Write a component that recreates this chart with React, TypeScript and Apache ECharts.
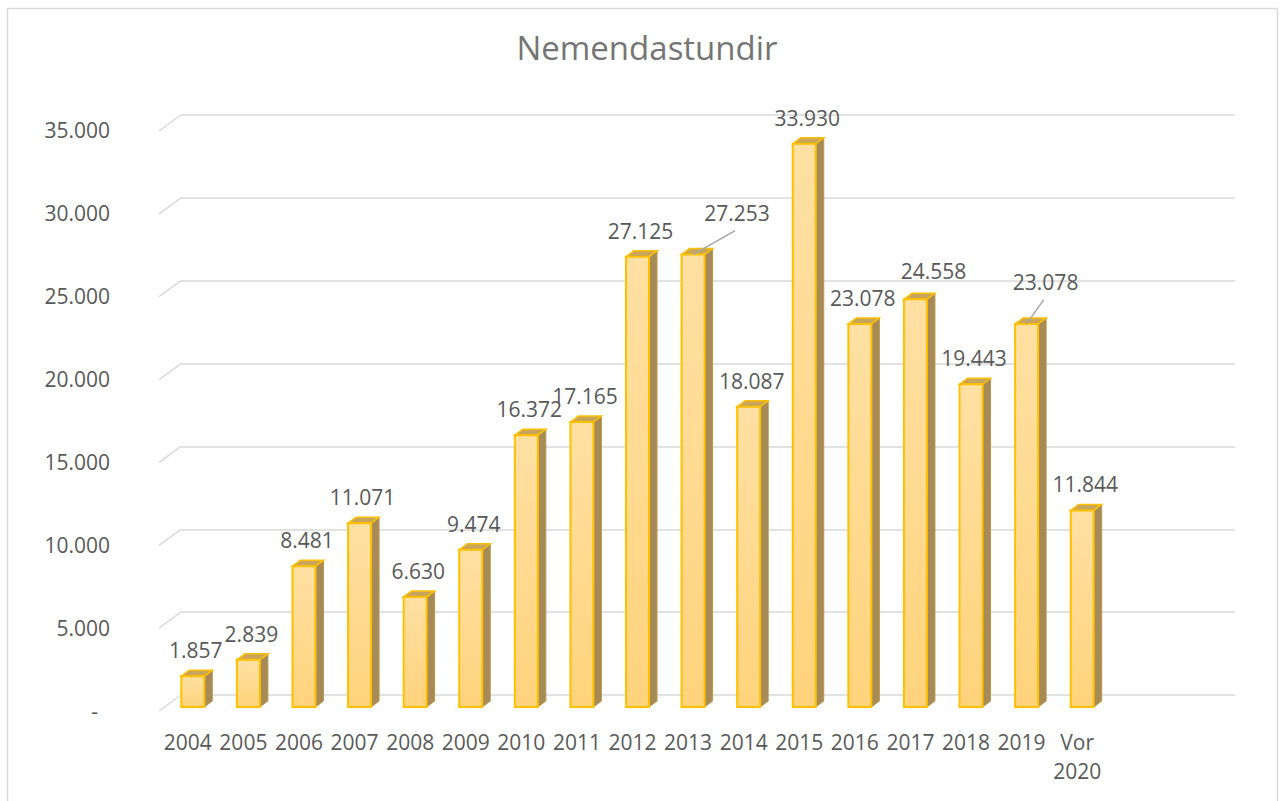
import React, { useEffect, useRef } from "react";
import * as echarts from "echarts";

const categories = ["2004", "2005", "2006", "2007", "2008", "2009", "2010", "2011", "2012", "2013", "2014", "2015", "2016", "2017", "2018", "2019", "Vor\n2020"];
const values = [1857, 2839, 8481, 11071, 6630, 9474, 16372, 17165, 27125, 27253, 18087, 33930, 23078, 24558, 19443, 23078, 11844];
const yTicks = [0, 5000, 10000, 15000, 20000, 25000, 30000, 35000];
const titleText = "Nemendastundir";

// label nudges for dragged labels (category index -> [dx, dy]) and which have leader lines
const labelNudges: Record<number, [number, number]> = { 9: [41, -16], 13: [15, -2], 15: [16, -16] };
const leaderIdx = [9, 15];

const FONT = "'Open Sans', sans-serif";
const fmt = (v: number) => String(v).replace(/\B(?=(\d{3})+(?!\d))/g, ".");

export default function App() {
  const ref = useRef<HTMLDivElement>(null);
  useEffect(() => {
    const chart = echarts.init(ref.current!, undefined, { renderer: "svg" });
    const frontGrad = new echarts.graphic.LinearGradient(0, 0, 0, 1, [
      { offset: 0, color: "#FFE0A3" },
      { offset: 1, color: "#FFD37C" },
    ]);
    chart.setOption({
      animation: false,
      backgroundColor: "#ffffff",
      title: {
        text: titleText,
        left: 642,
        textAlign: "center",
        top: 26,
        textStyle: { fontFamily: FONT, fontSize: 33, fontWeight: "normal", color: "#757575" },
      },
      graphic: [
        {
          type: "rect",
          shape: { x: 7.5, y: 8.5, width: 1270, height: 800 },
          style: { fill: "none", stroke: "#d9d9d9", lineWidth: 1.5 },
          silent: true,
        },
      ],
      grid: [
        { left: 181, right: 45, top: 115, bottom: 106 },
        { left: 160, right: 175, top: 130, bottom: 90 },
      ],
      xAxis: [
        { gridIndex: 0, type: "value", min: 0, max: 1, show: false },
        {
          gridIndex: 1,
          type: "category",
          data: categories,
          axisLine: { show: false },
          axisTick: { show: false },
          axisLabel: {
            interval: 0,
            margin: 16,
            verticalAlign: "top",
            lineHeight: 29,
            fontFamily: FONT,
            fontSize: 21,
            color: "#595959",
          },
        },
      ],
      yAxis: [
        {
          gridIndex: 0,
          type: "value",
          min: 0,
          max: 35000,
          interval: 5000,
          axisLine: { show: false },
          axisTick: { show: false },
          axisLabel: { show: false },
          splitLine: { lineStyle: { color: "#d9d9d9", width: 1.5 } },
        },
        {
          gridIndex: 1,
          type: "value",
          min: 0,
          max: 35000,
          interval: 5000,
          axisLine: { show: false },
          axisTick: { show: false },
          splitLine: { show: false },
          axisLabel: {
            margin: 50,
            fontFamily: FONT,
            fontSize: 21,
            color: "#595959",
            formatter: (v: number) => (v === 0 ? "{z|-}" : fmt(v)),
            rich: { z: { fontFamily: FONT, fontSize: 21, color: "#595959", padding: [0, 12, 0, 0] } },
          },
        },
      ],
      series: [
        {
          type: "custom",
          xAxisIndex: 0,
          yAxisIndex: 0,
          silent: true,
          data: yTicks.map((t) => [0, t]),
          renderItem: (params: any, api: any) => {
            const p = api.coord([0, api.value(1)]);
            return {
              type: "line",
              shape: { x1: p[0] - 22, y1: p[1] + 16, x2: p[0], y2: p[1] },
              style: { stroke: "#d9d9d9", lineWidth: 1.5 },
            };
          },
        },
        {
          type: "custom",
          xAxisIndex: 1,
          yAxisIndex: 1,
          silent: true,
          data: values.map((v, i) => [i, v]),
          renderItem: (params: any, api: any) => {
            const i = api.value(0);
            const v = api.value(1);
            const top = api.coord([i, v]);
            const bot = api.coord([i, 0]);
            const cx = top[0] + 5;
            const t = top[1] - 4;
            const b = bot[1] - 4;
            const hw = 11.5;
            const dx = 8;
            const dy = 6;
            const l = cx - hw;
            const r = cx + hw;
            const nudge = labelNudges[i] || [0, 0];
            const lx = cx + 3 + nudge[0];
            const ly = t - 26 + nudge[1];
            const children: any[] = [
              {
                type: "polygon",
                shape: { points: [[r, t], [r + dx, t - dy], [r + dx, b - dy], [r, b]] },
                style: { fill: "#A68B58", stroke: "#B89545", lineWidth: 1 },
              },
              {
                type: "polygon",
                shape: { points: [[l, t], [l + dx, t - dy], [r + dx, t - dy], [r, t]] },
                style: { fill: "#C8A55C", stroke: "#FFC000", lineWidth: 1.5 },
              },
              {
                type: "rect",
                shape: { x: l, y: t, width: hw * 2, height: b - t },
                style: { fill: frontGrad, stroke: "#FFC000", lineWidth: 2 },
              },
              {
                type: "text",
                x: lx,
                y: ly,
                style: {
                  text: fmt(v),
                  fill: "#595959",
                  font: `21px ${FONT}`,
                  align: "center",
                  verticalAlign: "middle",
                },
              },
            ];
            if (leaderIdx.indexOf(i) >= 0) {
              children.push({
                type: "line",
                shape: { x1: lx - 2, y1: ly + 18, x2: cx, y2: t },
                style: { stroke: "#A6A6A6", lineWidth: 1.5 },
              });
            }
            return { type: "group", children };
          },
        },
      ],
    });
    return () => chart.dispose();
  }, []);
  return <div ref={ref} style={{ position: "absolute", left: 0, top: 0, width: 1280, height: 801 }} />;
}
